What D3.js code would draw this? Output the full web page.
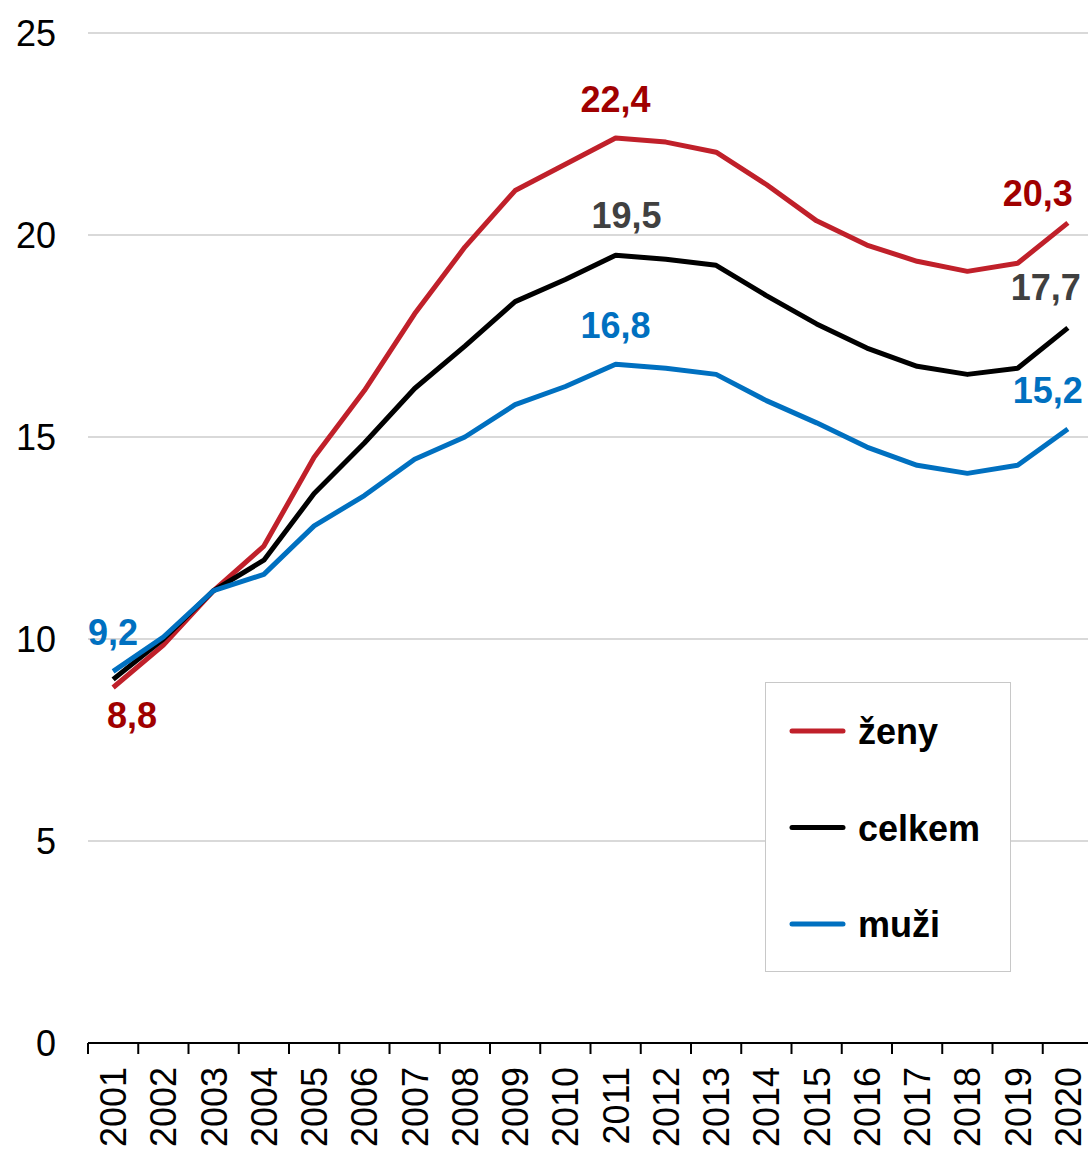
<!DOCTYPE html>
<html><head><meta charset="utf-8">
<script src="https://cdn.jsdelivr.net/npm/d3@7"></script>
<style>body{margin:0;background:#fff}svg{display:block;font-family:"Liberation Sans",Arial,sans-serif}</style>
</head><body><svg id="c" width="1088" height="1151"></svg>
<script>
const years = ["2001","2002","2003","2004","2005","2006","2007","2008","2009","2010","2011","2012","2013","2014","2015","2016","2017","2018","2019","2020"];
const zeny   = [8.8, 9.85, 11.2, 12.3, 14.5, 16.15, 18.05, 19.7, 21.1, 21.75, 22.4, 22.3, 22.05, 21.25, 20.35, 19.75, 19.35, 19.1, 19.3, 20.3];
const celkem = [9.0, 10.0, 11.2, 11.95, 13.6, 14.85, 16.2, 17.25, 18.35, 18.9, 19.5, 19.4, 19.25, 18.5, 17.8, 17.2, 16.75, 16.55, 16.7, 17.7];
const muzi   = [9.2, 10.05, 11.2, 11.6, 12.8, 13.55, 14.45, 15.0, 15.8, 16.25, 16.8, 16.7, 16.55, 15.9, 15.35, 14.75, 14.3, 14.1, 14.3, 15.2];
const yTicks = [0, 5, 10, 15, 20, 25];
const seriesNames = ["ženy", "celkem", "muži"];

const svg = d3.select("#c");
const x = d3.scaleBand().domain(years).range([88, 1093]).padding(0);
const y = d3.scaleLinear().domain([0, 25]).range([1043, 33]);
const cx = d => x(d) + x.bandwidth() / 2;
const FS = 36;

// gridlines
svg.append("g").selectAll("line").data(yTicks.filter(t => t > 0)).join("line")
  .attr("x1", 88).attr("x2", 1088).attr("y1", d => y(d)).attr("y2", d => y(d))
  .attr("stroke", "#d9d9d9").attr("stroke-width", 2);

// y labels
svg.append("g").selectAll("text").data(yTicks).join("text")
  .attr("x", 56).attr("y", d => y(d)).attr("dy", "0.36em")
  .attr("text-anchor", "end").attr("font-size", FS).attr("fill", "#000")
  .text(d => d);

// x axis
const xa = svg.append("g");
xa.append("line").attr("x1", 88).attr("x2", 1093).attr("y1", y(0)).attr("y2", y(0))
  .attr("stroke", "#000").attr("stroke-width", 2);
xa.selectAll("line.t").data(years.concat(["end"])).join("line").attr("class", "t")
  .attr("x1", (d, i) => 88 + i * x.step()).attr("x2", (d, i) => 88 + i * x.step())
  .attr("y1", y(0)).attr("y2", y(0) + 11).attr("stroke", "#000").attr("stroke-width", 2);
xa.selectAll("text").data(years).join("text")
  .attr("transform", d => `translate(${cx(d)},1067) rotate(-90)`)
  .attr("text-anchor", "end").attr("dy", "0.36em").attr("font-size", FS).attr("fill", "#000")
  .text(d => d);

const series = [
  {name: seriesNames[0], vals: zeny, color: "#C0202A", lab: "#A00000"},
  {name: seriesNames[1], vals: celkem, color: "#000000", lab: "#404040"},
  {name: seriesNames[2], vals: muzi, color: "#0070C0", lab: "#0070C0"}
];

const line = d3.line().x((d, i) => cx(years[i])).y(d => y(d));
series.forEach(s => {
  svg.append("path").datum(s.vals).attr("d", line)
    .attr("fill", "none").attr("stroke", s.color).attr("stroke-width", 5)
    .attr("stroke-linejoin", "round");
});

// data labels: [series index, year index, dx, dy]
const labels = [
  [0, 10, 0, -26], [1, 10, 11, -27], [2, 10, 0, -26],
  [0, 19, -30, -17], [1, 19, -22, -28], [2, 19, -20, -26],
  [2, 0, 0, -26], [0, 0, 19, 41]
];
svg.append("g").selectAll("text").data(labels).join("text")
  .attr("x", d => cx(years[d[1]]) + d[2])
  .attr("y", d => y(series[d[0]].vals[d[1]]) + d[3])
  .attr("text-anchor", "middle").attr("font-size", FS).attr("font-weight", "bold")
  .attr("fill", d => series[d[0]].lab)
  .text(d => String(series[d[0]].vals[d[1]].toFixed(1)).replace(".", ","));

// legend
const lg = svg.append("g");
lg.append("rect").attr("x", 765.5).attr("y", 682.5).attr("width", 245).attr("height", 289)
  .attr("fill", "#fff").attr("stroke", "#c8c8c8").attr("stroke-width", 1);
series.forEach((s, i) => {
  const ly = 731 + i * 96.5;
  lg.append("line").attr("x1", 792).attr("x2", 843).attr("y1", ly).attr("y2", ly)
    .attr("stroke", s.color).attr("stroke-width", 5).attr("stroke-linecap", "round");
  lg.append("text").attr("x", 858).attr("y", ly + 13).attr("font-size", FS)
    .attr("font-weight", "bold").attr("fill", "#000").text(s.name);
});
</script></body></html>
